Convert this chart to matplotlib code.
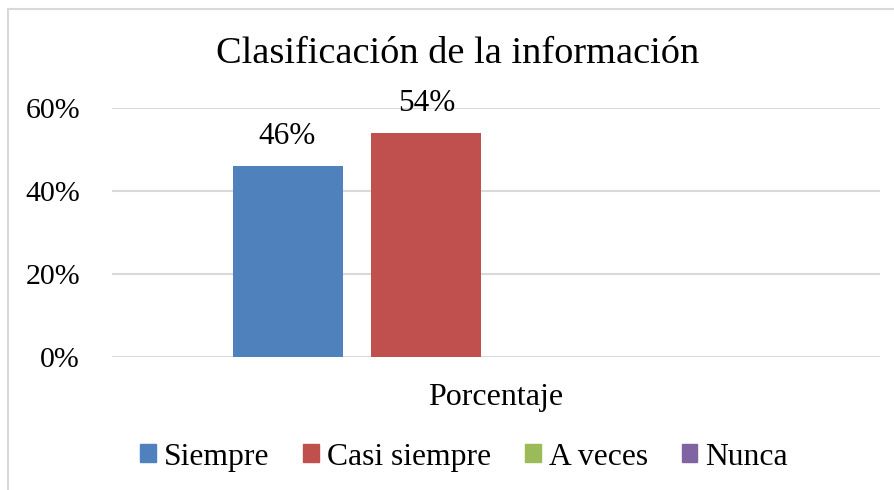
import numpy as np
import matplotlib
matplotlib.use("Agg")
import matplotlib.pyplot as plt
from matplotlib.lines import Line2D

plt.rcParams['font.family'] = ['Liberation Serif', 'DejaVu Serif']

categoria = ["Porcentaje"]
series = ["Siempre", "Casi siempre", "A veces", "Nunca"]
valores = [0.46, 0.54, 0.0, 0.0]
colores = ["#4F81BD", "#C0504D", "#9BBB59", "#8064A2"]
yticks = [0.0, 0.2, 0.4, 0.6]
ytick_labels = ["0%", "20%", "40%", "60%"]

fig = plt.figure(figsize=(8.95, 4.90), dpi=100)
ax = fig.add_axes([112/895, 133/490, 768/895, 249/490])

# marco del grafico (solo izquierda y arriba visibles)
fig.add_artist(Line2D([8/895, 8/895], [0, 1 - 9/490], color="#d9d9d9", lw=1.5))
fig.add_artist(Line2D([8/895, 1], [1 - 9/490, 1 - 9/490], color="#d9d9d9", lw=1.5))

ancho = 110/768
paso = 139/768
offsets = (np.arange(len(series)) - (len(series) - 1) / 2) * paso

for i, (nombre, v, c) in enumerate(zip(series, valores, colores)):
    ax.bar(offsets[i], v, width=ancho, color=c, label=nombre, zorder=3)
    if v > 0:
        ax.annotate(f"{v*100:.0f}%", (offsets[i], v), xytext=(0, 11),
                    textcoords="offset points", ha="center", va="bottom",
                    fontsize=22.5)

ax.set_xlim(-0.5, 0.5)
ax.set_ylim(0, 0.6)
ax.set_yticks(yticks)
ax.set_yticklabels(ytick_labels, fontsize=21.5)
ax.set_xticks([0])
ax.set_xticklabels(categoria, fontsize=23)
ax.tick_params(axis="both", length=0)
ax.tick_params(axis="y", pad=23)
ax.tick_params(axis="x", pad=19)
ax.grid(axis="y", color="#d9d9d9", lw=1.5, zorder=0)
ax.set_axisbelow(True)
for s in ax.spines.values():
    s.set_visible(False)

fig.text(458/895, 1 - 54/490, "Clasificación de la información",
         ha="center", va="center", fontsize=27.6)

leg_handles = [plt.Rectangle((0, 0), 1, 1, color=c) for c in colores]
fig.legend(leg_handles, series, loc="center", bbox_to_anchor=(464/895, 1 - 457/490),
           ncol=4, frameon=False, fontsize=22.8, handlelength=0.5, handleheight=0.5,
           handletextpad=0.25, columnspacing=1.07)

fig.savefig("out.png", dpi=100)
